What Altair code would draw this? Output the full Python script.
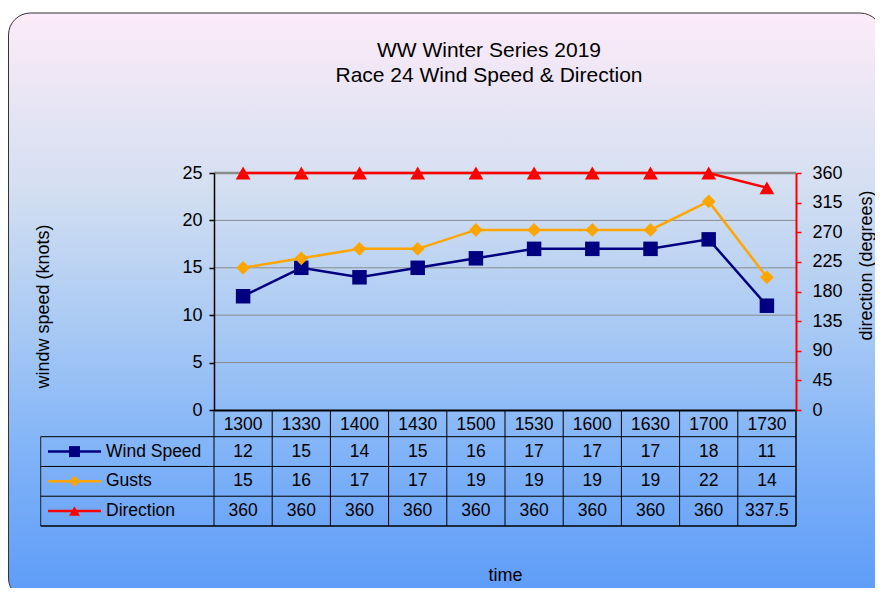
import altair as alt
import pandas as pd

# ---------------- data ----------------
times = ["1300", "1330", "1400", "1430", "1500", "1530", "1600", "1630", "1700", "1730"]
wind_speed = [12, 15, 14, 15, 16, 17, 17, 17, 18, 11]
gusts = [15, 16, 17, 17, 19, 19, 19, 19, 22, 14]
direction = [360, 360, 360, 360, 360, 360, 360, 360, 360, 337.5]
series = ["Wind Speed", "Gusts", "Direction"]
speed_ticks = [0, 5, 10, 15, 20, 25]
dir_ticks = [0, 45, 90, 135, 180, 225, 270, 315, 360]
title_lines = ["WW Winter Series 2019", "Race 24 Wind Speed & Direction"]

df = pd.DataFrame({"time": times, "speed": wind_speed, "gusts": gusts, "direction": direction})
table_df = pd.DataFrame({
    "time": times * 3,
    "row": [series[0]] * len(times) + [series[1]] * len(times) + [series[2]] * len(times),
    "label": [f"{v:g}" for v in wind_speed + gusts + direction],
})
rows_df = pd.DataFrame({"row": series})
grid_df = pd.DataFrame({"v": speed_ticks[1:]})
times_df = pd.DataFrame({"time": times})
one_df = pd.DataFrame({"a": [0]})

# ---------------- style ----------------
FONT = "Liberation Sans"
NAVY, ORANGE, RED = "#000080", "#FFA500", "#FF0000"
W, H = 582, 237
TABLE_TOP, TABLE_BOTTOM, TABLE_LEFT = 263.7, 353, -173.3
ROW_HALF = (TABLE_BOTTOM - TABLE_TOP) / 6

xscale = alt.Scale(type="band", domain=times, paddingInner=0, paddingOuter=0)
xaxis = alt.Axis(
    title="time", orient="bottom", ticks=False, tickSize=0, grid=False,
    domainColor="black", domainWidth=2,
    labelFont=FONT, labelFontSize=17.5, labelColor="black", labelPadding=14,
    labelBaseline="middle", labelAngle=0,
    titleFont=FONT, titleFontSize=18, titleFontWeight="normal", titleColor="black",
    titleY=165, titleBaseline="middle", zindex=1,
)


def X(band=0.5):
    return alt.X("time:N", scale=xscale, axis=xaxis, bandPosition=band, sort=times)


speed_scale = alt.Scale(domain=[0, 25], nice=False, zero=True)
speed_axis = alt.Axis(
    orient="left", values=speed_ticks, grid=False,
    domainColor="black", domainWidth=1.5, tickColor="black", tickSize=5, tickWidth=1.5,
    labelFont=FONT, labelFontSize=18, labelColor="black", labelPadding=7,
    title="windw speed (knots)", titleFont=FONT, titleFontSize=18, titleFontWeight="normal",
    titleColor="black", titleAngle=270, titleX=-171, titleY=133,
    titleAlign="center", titleBaseline="middle", zindex=1,
)
dir_scale = alt.Scale(domain=[0, 360], nice=False, zero=True)
dir_axis = alt.Axis(
    orient="right", values=dir_ticks, grid=False,
    domainColor=RED, domainWidth=2, tickColor=RED, tickSize=5, tickWidth=1.5,
    labelFont=FONT, labelFontSize=18, labelColor="black", labelPadding=11,
    title="direction (degrees)", titleFont=FONT, titleFontSize=18, titleFontWeight="normal",
    titleColor="black", titleAngle=270, titleX=70, titleY=92,
    titleAlign="center", titleBaseline="middle", zindex=1,
)
row_scale = alt.Scale(type="point", domain=series, range=[TABLE_TOP, TABLE_BOTTOM], padding=0.5)
color_scale = alt.Scale(domain=series, range=[NAVY, ORANGE, RED])
shape_scale = alt.Scale(domain=series, range=["square", "diamond", "triangle-up"])

# ---------------- background + title ----------------
gradient = alt.LinearGradient(
    gradient="linear", x1=0, x2=0, y1=0, y2=1,
    stops=[
        alt.GradientStop(color="#fdebf8", offset=0),
        alt.GradientStop(color="#d3dff1", offset=0.3),
        alt.GradientStop(color="#a6c8f4", offset=0.55),
        alt.GradientStop(color="#80b3f8", offset=0.75),
        alt.GradientStop(color="#5c9bf8", offset=1),
    ],
)
bg = alt.Chart(one_df).mark_rect(
    cornerRadius=22, fill=gradient, stroke="#333333", strokeWidth=1
).encode(
    x=alt.value(-205.5), x2=alt.value(668), y=alt.value(-160), y2=alt.value(427)
)
title = alt.Chart(one_df).mark_text(
    font=FONT, fontSize=21, color="black", align="center", baseline="alphabetic", lineHeight=25
).encode(x=alt.value(275), y=alt.value(-116), text=alt.value(title_lines))

# ---------------- speed layer ----------------
grid = alt.Chart(grid_df).mark_rule(color="#8c8c8c").encode(
    y=alt.Y("v:Q", scale=speed_scale, axis=speed_axis),
    strokeWidth=alt.condition(alt.datum.v == 25, alt.value(2.5), alt.value(1)),
)
ws_line = alt.Chart(df).mark_line(color=NAVY, strokeWidth=2.5).encode(
    x=X(), y=alt.Y("speed:Q", scale=speed_scale, axis=speed_axis))
ws_pts = alt.Chart(df).mark_point(shape="square", filled=True, size=210, color=NAVY, opacity=1).encode(
    x=X(), y=alt.Y("speed:Q", scale=speed_scale, axis=speed_axis))
g_line = alt.Chart(df).mark_line(color=ORANGE, strokeWidth=2.5).encode(
    x=X(), y=alt.Y("gusts:Q", scale=speed_scale, axis=speed_axis))
g_pts = alt.Chart(df).mark_point(shape="diamond", filled=True, size=190, color=ORANGE, opacity=1).encode(
    x=X(), y=alt.Y("gusts:Q", scale=speed_scale, axis=speed_axis))
speed_layer = alt.layer(grid, ws_line, ws_pts, g_line, g_pts)

# ---------------- direction layer ----------------
d_line = alt.Chart(df).mark_line(color=RED, strokeWidth=2.5).encode(
    x=X(), y=alt.Y("direction:Q", scale=dir_scale, axis=dir_axis))
d_pts = alt.Chart(df).mark_point(shape="triangle-up", filled=True, size=220, color=RED, opacity=1).encode(
    x=X(), y=alt.Y("direction:Q", scale=dir_scale, axis=dir_axis))
dir_layer = alt.layer(d_line, d_pts)

# ---------------- data table ----------------
rowY = alt.Y("row:N", scale=row_scale, axis=None)
vlines = alt.Chart(times_df).mark_rule(color="black", strokeWidth=1).encode(
    x=X(0), y=alt.value(H), y2=alt.value(TABLE_BOTTOM))
vline_end = alt.Chart(times_df).transform_filter(alt.datum.time == times[-1]).mark_rule(
    color="black", strokeWidth=1.5).encode(x=X(1), y=alt.value(H), y2=alt.value(TABLE_BOTTOM))
vline_left = alt.Chart(one_df).mark_rule(color="#222222", strokeWidth=1).encode(
    x=alt.value(TABLE_LEFT), y=alt.value(TABLE_TOP), y2=alt.value(TABLE_BOTTOM))
hlines = alt.Chart(rows_df).mark_rule(color="black", strokeWidth=1, yOffset=-ROW_HALF).encode(
    x=alt.value(TABLE_LEFT), x2=alt.value(W), y=rowY)
hline_end = alt.Chart(rows_df).transform_filter(alt.datum.row == series[-1]).mark_rule(
    color="black", strokeWidth=1.5, yOffset=ROW_HALF).encode(
    x=alt.value(TABLE_LEFT), x2=alt.value(W), y=rowY)
cells = alt.Chart(table_df).mark_text(
    font=FONT, fontSize=17.5, color="black", align="center", baseline="middle").encode(
    x=X(), y=rowY, text="label:N")
leg_line = alt.Chart(rows_df).mark_rule(strokeWidth=2.5).encode(
    x=alt.value(-166), x2=alt.value(-113), y=rowY,
    color=alt.Color("row:N", scale=color_scale, legend=None))
leg_pts = alt.Chart(rows_df).mark_point(filled=True, size=120, opacity=1).encode(
    x=alt.value(-139.5), y=rowY,
    color=alt.Color("row:N", scale=color_scale, legend=None),
    shape=alt.Shape("row:N", scale=shape_scale, legend=None))
leg_text = alt.Chart(rows_df).mark_text(
    font=FONT, fontSize=17.5, color="black", align="left", baseline="middle").encode(
    x=alt.value(-108), y=rowY, text="row:N")
table_layer = alt.layer(vlines, vline_end, vline_left, hlines, hline_end, cells, leg_line, leg_pts, leg_text)

chart = alt.layer(bg, title, speed_layer, dir_layer, table_layer).resolve_scale(
    y="independent", color="independent", shape="independent"
).properties(
    width=W, height=H,
    padding={"left": 206, "top": 165, "right": 79, "bottom": 178},
    autosize=alt.AutoSizeParams(type="none"),
).configure_view(stroke="transparent")

chart.save("out.html", embed_options={"renderer": "svg", "actions": False})
